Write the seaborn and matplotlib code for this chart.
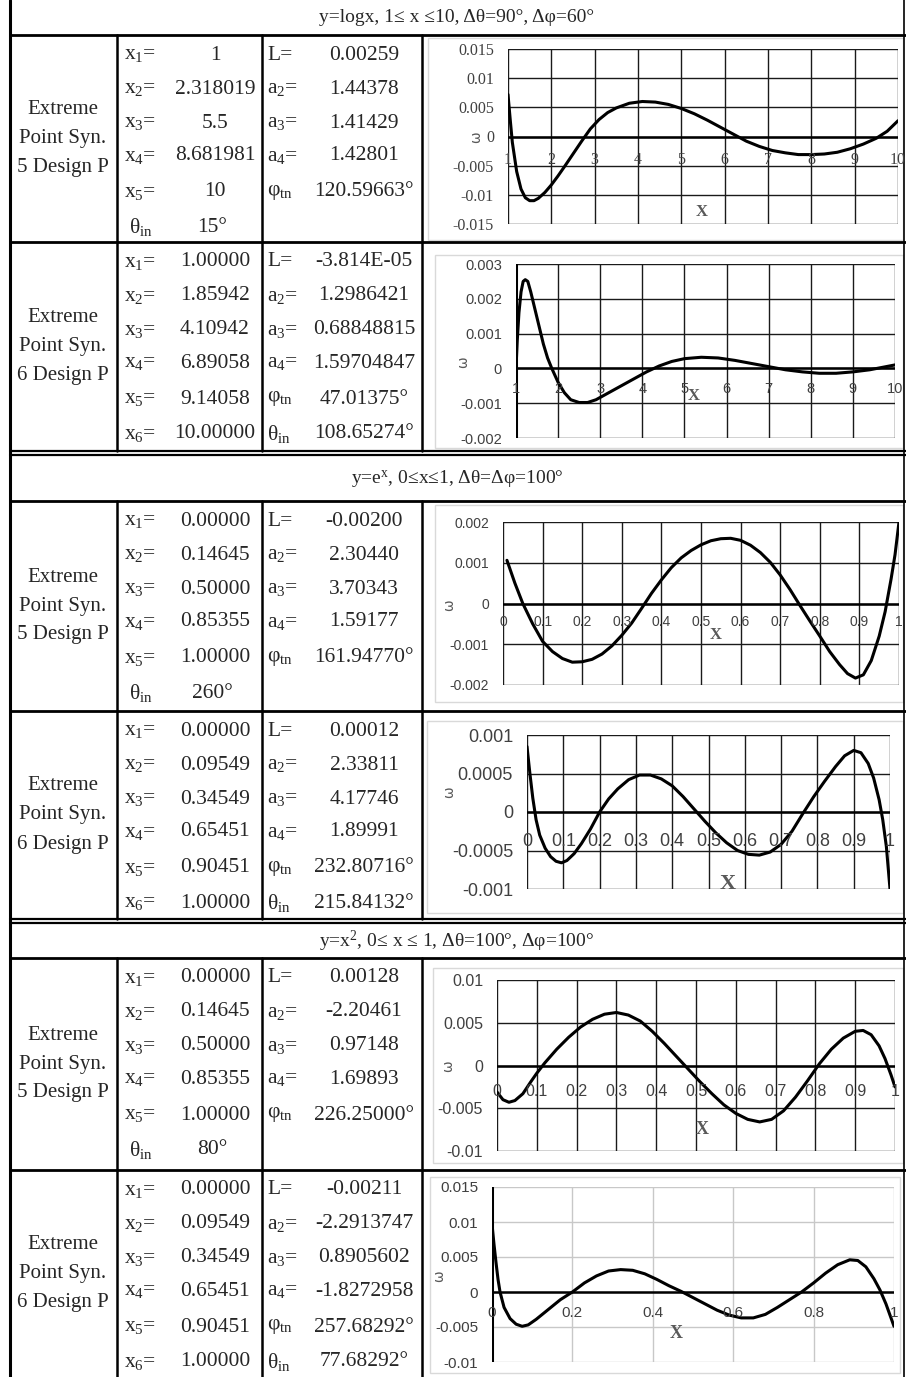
import numpy as np
import pandas as pd
import matplotlib
matplotlib.use("Agg")
import matplotlib.pyplot as plt
import seaborn as sns

sns.set_theme(style="white")
plt.rcParams['font.family'] = ['Liberation Serif', 'DejaVu Serif']
plt.rcParams['mathtext.fontset'] = 'custom'
plt.rcParams['mathtext.rm'] = 'Liberation Serif'
plt.rcParams['mathtext.it'] = 'Liberation Serif:italic'

# ---------------- table data ----------------
headers = ["y=logx, 1≤ x ≤10, Δθ=90°, Δφ=60°",
           r"y=e$^{\mathrm{x}}$, 0≤x≤1, Δθ=Δφ=100°",
           r"y=x$^{2}$, 0≤ x ≤ 1, Δθ=100°, Δφ=100°"]

row_titles = ["5 Design P", "6 Design P", "5 Design P", "6 Design P", "5 Design P", "6 Design P"]

x_vals_1 = ["1", "2.318019", "5.5", "8.681981", "10"]
x_vals_2 = ["1.00000", "1.85942", "4.10942", "6.89058", "9.14058", "10.00000"]
x_vals_3 = ["0.00000", "0.14645", "0.50000", "0.85355", "1.00000"]
x_vals_4 = ["0.00000", "0.09549", "0.34549", "0.65451", "0.90451", "1.00000"]
x_vals_5 = ["0.00000", "0.14645", "0.50000", "0.85355", "1.00000"]
x_vals_6 = ["0.00000", "0.09549", "0.34549", "0.65451", "0.90451", "1.00000"]
theta_5 = {0: "15°", 2: "260°", 4: "80°"}

p_vals_1 = ["0.00259", "1.44378", "1.41429", "1.42801", "120.59663°"]
p_vals_2 = ["-3.814E-05", "1.2986421", "0.68848815", "1.59704847", "47.01375°", "108.65274°"]
p_vals_3 = ["-0.00200", "2.30440", "3.70343", "1.59177", "161.94770°"]
p_vals_4 = ["0.00012", "2.33811", "4.17746", "1.89991", "232.80716°", "215.84132°"]
p_vals_5 = ["0.00128", "-2.20461", "0.97148", "1.69893", "226.25000°"]
p_vals_6 = ["-0.00211", "-2.2913747", "0.8905602", "-1.8272958", "257.68292°", "77.68292°"]

x_names = [r"x$_{1}$=", r"x$_{2}$=", r"x$_{3}$=", r"x$_{4}$=", r"x$_{5}$=", r"x$_{6}$="]
p_names = ["L=", r"a$_{2}$=", r"a$_{3}$=", r"a$_{4}$=", r"φ$_{\mathrm{tn}}$", r"θ$_{\mathrm{in}}$"]

x_vals = [x_vals_1, x_vals_2, x_vals_3, x_vals_4, x_vals_5, x_vals_6]
p_vals = [p_vals_1, p_vals_2, p_vals_3, p_vals_4, p_vals_5, p_vals_6]

# ---------------- error curves ----------------
log5_x = [1.0, 1.05, 1.1, 1.2, 1.3, 1.4, 1.5, 1.6, 1.7, 1.85, 2.0, 2.15, 2.3, 2.5, 2.7, 2.9,
          3.1, 3.3, 3.5, 3.8, 4.1, 4.4, 4.7, 5.0, 5.3, 5.6, 5.9, 6.2, 6.5, 6.8, 7.1, 7.4,
          7.7, 8.0, 8.3, 8.6, 8.9, 9.2, 9.5, 9.75, 10.0]
log5_w = [0.0072, 0.003, -0.001, -0.006, -0.009, -0.0105, -0.011, -0.011, -0.0106, -0.0096,
          -0.0083, -0.0068, -0.0052, -0.003, -0.0008, 0.0013, 0.0029, 0.0041, 0.0049, 0.0057,
          0.006, 0.0059, 0.0055, 0.0048, 0.0039, 0.0028, 0.0016, 0.0004, -0.0008, -0.0017,
          -0.0024, -0.0028, -0.0031, -0.0031, -0.003, -0.0027, -0.0021, -0.0013, -0.0003,
          0.0009, 0.0027]

log6_x = [1.0, 1.03, 1.07, 1.12, 1.17, 1.22, 1.28, 1.35, 1.45, 1.55, 1.65, 1.75, 1.85, 2.0,
          2.15, 2.3, 2.5, 2.7, 2.9, 3.2, 3.5, 3.8, 4.1, 4.4, 4.7, 5.0, 5.4, 5.8, 6.2, 6.6,
          7.0, 7.4, 7.8, 8.2, 8.6, 9.0, 9.4, 9.7, 10.0]
log6_w = [0.0, 0.0008, 0.0016, 0.0022, 0.0025, 0.00255, 0.0025, 0.0022, 0.0017, 0.0012,
          0.0007, 0.0003, 0.0, -0.0004, -0.0007, -0.0009, -0.00098, -0.00098, -0.0009,
          -0.0007, -0.0005, -0.0003, -0.0001, 0.00007, 0.0002, 0.00028, 0.00032, 0.0003,
          0.00023, 0.00014, 0.00005, -0.00004, -0.0001, -0.00014, -0.00014, -0.0001,
          -0.00004, 0.00003, 0.0001]

exp5_x = [0.01, 0.03, 0.05, 0.075, 0.1, 0.125, 0.15, 0.175, 0.2, 0.225, 0.25, 0.275, 0.3,
          0.325, 0.35, 0.375, 0.4, 0.425, 0.45, 0.475, 0.5, 0.525, 0.55, 0.575, 0.6, 0.625,
          0.65, 0.675, 0.7, 0.725, 0.75, 0.775, 0.8, 0.825, 0.85, 0.87, 0.89, 0.91, 0.93,
          0.95, 0.965, 0.98, 0.99, 1.0]
exp5_w = [0.00106, 0.0005, 0.0, -0.0005, -0.00093, -0.00118, -0.00135, -0.00144, -0.00143,
          -0.00137, -0.00124, -0.00104, -0.00078, -0.00048, -0.00012, 0.00025, 0.00058,
          0.00088, 0.00112, 0.0013, 0.00144, 0.00154, 0.00159, 0.0016, 0.00155, 0.00143,
          0.00125, 0.00101, 0.0007, 0.00034, -0.00005, -0.00043, -0.0008, -0.00118, -0.0015,
          -0.00172, -0.00183, -0.00175, -0.0014, -0.0008, -0.0002, 0.0006, 0.0012, 0.002]

exp6_x = [0.0, 0.008, 0.016, 0.025, 0.035, 0.05, 0.065, 0.08, 0.095, 0.11, 0.13, 0.15, 0.175,
          0.2, 0.225, 0.25, 0.28, 0.31, 0.34, 0.37, 0.4, 0.43, 0.46, 0.49, 0.52, 0.55, 0.58,
          0.61, 0.64, 0.67, 0.7, 0.73, 0.76, 0.79, 0.82, 0.85, 0.875, 0.9, 0.92, 0.94, 0.955,
          0.97, 0.98, 0.99, 1.0]
exp6_w = [0.00085, 0.0005, 0.00018, -0.0001, -0.0003, -0.00047, -0.00058, -0.00064, -0.00066,
          -0.00063, -0.00054, -0.00041, -0.00022, 0.0, 0.00017, 0.0003, 0.00042, 0.00048,
          0.00048, 0.00043, 0.00034, 0.0002, 0.00004, -0.00012, -0.00027, -0.0004, -0.0005,
          -0.00055, -0.00056, -0.00052, -0.00042, -0.00025, -0.00002, 0.0002, 0.0004, 0.00059,
          0.00073, 0.0008, 0.00077, 0.00063, 0.00044, 0.00016, -0.0001, -0.00045, -0.001]

sq5_x = [0.0, 0.015, 0.03, 0.045, 0.065, 0.085, 0.1, 0.12, 0.15, 0.18, 0.21, 0.24, 0.27, 0.3,
         0.33, 0.36, 0.39, 0.42, 0.45, 0.48, 0.51, 0.54, 0.57, 0.6, 0.63, 0.66, 0.69, 0.72,
         0.75, 0.78, 0.81, 0.84, 0.87, 0.9, 0.92, 0.94, 0.96, 0.975, 0.99, 1.0]
sq5_w = [-0.0031, -0.004, -0.0043, -0.0041, -0.0033, -0.0019, -0.0009, 0.0003, 0.0019, 0.0033,
         0.0045, 0.0054, 0.006, 0.0062, 0.0059, 0.0052, 0.004, 0.0026, 0.0011, -0.0004,
         -0.0019, -0.0033, -0.0046, -0.0056, -0.0063, -0.0066, -0.0063, -0.0053, -0.0037,
         -0.0018, 0.0002, 0.0019, 0.0032, 0.004, 0.0041, 0.0036, 0.0023, 0.0008, -0.0011,
         -0.0025]

sq6_x = [0.0, 0.005, 0.01, 0.015, 0.02, 0.03, 0.045, 0.06, 0.075, 0.09, 0.11, 0.14, 0.17, 0.2,
         0.23, 0.26, 0.29, 0.32, 0.35, 0.38, 0.41, 0.44, 0.47, 0.5, 0.53, 0.56, 0.59, 0.62,
         0.65, 0.68, 0.71, 0.74, 0.77, 0.8, 0.83, 0.86, 0.89, 0.91, 0.93, 0.95, 0.965, 0.98,
         1.0]
sq6_w = [0.0097, 0.0068, 0.0042, 0.0018, 0.0, -0.0022, -0.0038, -0.0046, -0.0049, -0.0047,
         -0.0039, -0.0025, -0.0011, 0.0, 0.0013, 0.0023, 0.003, 0.0032, 0.0031, 0.0026,
         0.0018, 0.0009, 0.0001, -0.0008, -0.0017, -0.0026, -0.0033, -0.0037, -0.0037,
         -0.0032, -0.0022, -0.0011, 0.0, 0.0013, 0.0027, 0.0039, 0.0046, 0.0045, 0.0036,
         0.0019, 0.0003, -0.0017, -0.0049]

log_ticks = [1, 2, 3, 4, 5, 6, 7, 8, 9, 10]
unit_ticks = [0, 0.1, 0.2, 0.3, 0.4, 0.5, 0.6, 0.7, 0.8, 0.9, 1]
unit_labels = ["0", "0.1", "0.2", "0.3", "0.4", "0.5", "0.6", "0.7", "0.8", "0.9", "1"]
unit_ticks_5 = [0, 0.2, 0.4, 0.6, 0.8, 1]
unit_labels_5 = ["0", "0.2", "0.4", "0.6", "0.8", "1"]
y1_ticks = [-0.015, -0.01, -0.005, 0, 0.005, 0.01, 0.015]
y1_labels = ["-0.015", "-0.01", "-0.005", "0", "0.005", "0.01", "0.015"]
y2_ticks = [-0.002, -0.001, 0, 0.001, 0.002, 0.003]
y2_labels = ["-0.002", "-0.001", "0", "0.001", "0.002", "0.003"]
y3_ticks = [-0.002, -0.001, 0, 0.001, 0.002]
y3_labels = ["-0.002", "-0.001", "0", "0.001", "0.002"]
y4_ticks = [-0.001, -0.0005, 0, 0.0005, 0.001]
y4_labels = ["-0.001", "-0.0005", "0", "0.0005", "0.001"]
y5_ticks = [-0.01, -0.005, 0, 0.005, 0.01]
y5_labels = ["-0.01", "-0.005", "0", "0.005", "0.01"]
y6_ticks = [-0.01, -0.005, 0, 0.005, 0.01, 0.015]
y6_labels = ["-0.01", "-0.005", "0", "0.005", "0.01", "0.015"]

# ---------------- figure / table frame ----------------
W, H = 906, 1377
fig = plt.figure(figsize=(W / 100, H / 100), dpi=100)
bg = fig.add_axes([0, 0, 1, 1])
bg.set_xlim(0, W)
bg.set_ylim(H, 0)
bg.axis('off')

row_top = [35, 242, 501, 711, 958, 1170]
row_bot = [242, 451, 711, 919, 1170, 1377]
head_y = [18, 479, 941]
sections = [(35, 451), (501, 919), (958, 1377)]

bg.plot([10, 10], [0, H], color='black', lw=2.2)
bg.plot([904, 904], [0, H], color='black', lw=1.2)
for y in [35, 242, 501, 711, 958, 1170]:
    bg.plot([10, 906], [y, y], color='black', lw=2.0)
for y in [451, 455, 919, 923]:
    bg.plot([10, 906], [y, y], color='black', lw=1.6)
for t, b in sections:
    for x in [117, 262, 422]:
        bg.plot([x, x], [t, b], color='black', lw=1.8)

for y, h in zip(head_y, headers):
    bg.text(457, y, h, ha='center', va='center', fontsize=14)

fs_tab = 15.5
line_off = [20, 54, 88, 121, 157, 192]
for i in range(6):
    top = row_top[i]
    mid = (row_top[i] + row_bot[i]) / 2
    for k, s in enumerate(["Extreme", "Point Syn.", row_titles[i]]):
        bg.text(63, mid + (k - 1) * 29, s, ha='center', va='center', fontsize=15)
    for k, v in enumerate(x_vals[i]):
        y = top + line_off[k]
        bg.text(124, y, x_names[k], ha='left', va='center', fontsize=fs_tab)
        bg.text(215, y, v, ha='center', va='center', fontsize=fs_tab)
    if i in theta_5:
        y = top + line_off[5]
        bg.text(129, y, p_names[5], ha='left', va='center', fontsize=fs_tab)
        bg.text(212, y, theta_5[i], ha='center', va='center', fontsize=fs_tab)
    for k, v in enumerate(p_vals[i]):
        y = top + line_off[k]
        bg.text(267, y, p_names[k], ha='left', va='center', fontsize=fs_tab)
        bg.text(364, y, v, ha='center', va='center', fontsize=fs_tab)

# light chart-area frames
frames = [(428, 38, 903, 240), (435, 255, 903, 448), (435, 505, 903, 702),
          (427, 721, 903, 913), (433, 968, 903, 1163), (430, 1177, 900, 1373)]
for l, t, r, b in frames:
    bg.add_patch(plt.Rectangle((l, t), r - l, b - t, fill=False, ec='#d9d9d9', lw=1.0))

# ---------------- curve panels ----------------
panels = [
    dict(box=(508, 898, 49, 224), x=log5_x, w=log5_w, xlim=(1, 10), ylim=(-0.015, 0.015),
         xt=log_ticks, xl=[str(t) for t in log_ticks], yt=y1_ticks, yl=y1_labels,
         fs=11.5, fam='Liberation Serif', off=23, grid='#1a1a1a', left=False,
         om=(476, 137), xm=(702, 212), xs=12),
    dict(box=(516, 895, 264, 438), x=log6_x, w=log6_w, xlim=(1, 10), ylim=(-0.002, 0.003),
         xt=log_ticks, xl=[str(t) for t in log_ticks], yt=y2_ticks, yl=y2_labels,
         fs=10.5, fam='Liberation Sans', off=21, grid='#1a1a1a', left=True,
         om=(463, 362), xm=(694, 396), xs=12),
    dict(box=(503, 899, 522, 685), x=exp5_x, w=exp5_w, xlim=(0, 1), ylim=(-0.002, 0.002),
         xt=unit_ticks, xl=unit_labels, yt=y3_ticks, yl=y3_labels,
         fs=10, fam='Liberation Sans', off=18, grid='#1a1a1a', left=False,
         om=(449, 605), xm=(716, 635), xs=12),
    dict(box=(527, 890, 735, 889), x=exp6_x, w=exp6_w, xlim=(0, 1), ylim=(-0.001, 0.001),
         xt=unit_ticks, xl=unit_labels, yt=y4_ticks, yl=y4_labels,
         fs=13, fam='Liberation Sans', off=29, grid='#1a1a1a', left=False,
         om=(449, 792), xm=(728, 884), xs=16),
    dict(box=(497, 895, 980, 1151), x=sq5_x, w=sq5_w, xlim=(0, 1), ylim=(-0.01, 0.01),
         xt=unit_ticks, xl=unit_labels, yt=y5_ticks, yl=y5_labels,
         fs=11.5, fam='Liberation Sans', off=26, grid='#1a1a1a', left=False,
         om=(448, 1066), xm=(702, 1130), xs=13),
    dict(box=(492, 894, 1187, 1362), x=sq6_x, w=sq6_w, xlim=(0, 1), ylim=(-0.01, 0.015),
         xt=unit_ticks_5, xl=unit_labels_5, yt=y6_ticks, yl=y6_labels,
         fs=11, fam='Liberation Sans', off=21, grid='#c8c8c8', left=True,
         om=(439, 1276), xm=(676, 1333), xs=13),
]

for p in panels:
    l, r, t, b = p['box']
    ax = fig.add_axes([l / W, 1 - b / H, (r - l) / W, (b - t) / H])
    ax.set_facecolor('none')
    df = pd.DataFrame({'x': p['x'], 'w': p['w']})
    ax.grid(True, color=p['grid'], lw=1.0)
    ax.axhline(0, color='black', lw=1.8, zorder=2)
    if p['left']:
        ax.axvline(p['xlim'][0], color='black', lw=2.2, zorder=2)
    sns.lineplot(data=df, x='x', y='w', ax=ax, color='black', lw=2.2, sort=False, zorder=3,
                 solid_joinstyle='round', solid_capstyle='round')
    ax.set_xlim(p['xlim'])
    ax.set_ylim(p['ylim'])
    ax.set_xticks(p['xt'])
    ax.set_yticks(p['yt'])
    ax.set_yticklabels(p['yl'], fontsize=p['fs'], family=p['fam'], color='#404040')
    ax.tick_params(axis='both', length=0)
    ax.tick_params(axis='x', labelbottom=False)
    ax.tick_params(axis='y', pad=10)
    ax.set_xlabel('')
    ax.set_ylabel('')
    for s in ax.spines.values():
        s.set_visible(False)
    for tv, lab in zip(p['xt'], p['xl']):
        ax.annotate(lab, (tv, 0), xytext=(0, -p['off'] * 0.72), textcoords='offset points',
                    ha='center', va='center', fontsize=p['fs'], family=p['fam'], color='#404040',
                    annotation_clip=False)
    bg.text(p['om'][0], p['om'][1], "ω", rotation=90, ha='center', va='center',
            fontsize=10, family='DejaVu Sans', color='#595959', zorder=5)
    fig.text(p['xm'][0] / W, 1 - p['xm'][1] / H, "X", ha='center', va='center',
             fontsize=p['xs'], family='Liberation Serif', fontweight='bold', color='#595959')

fig.savefig("out.png", dpi=100)
